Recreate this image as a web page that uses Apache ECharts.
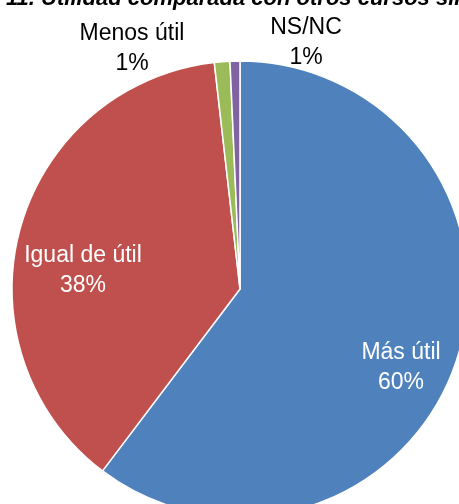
<!DOCTYPE html>
<html>
<head>
<meta charset="utf-8">
<script src="https://cdn.jsdelivr.net/npm/echarts@6/dist/echarts.min.js"></script>
<style>html,body{margin:0;padding:0;background:#fff;}#c{width:459px;height:504px;}</style>
</head>
<body>
<div id="c"></div>
<script>
var titleText = '11. Utilidad comparada con otros cursos similares';
var categories = ['Más útil', 'Igual de útil', 'Menos útil', 'NS/NC'];
var values = [60.3, 37.9, 1.1, 0.7];
var colors = ['#4F81BD', '#C0504D', '#9BBB59', '#8064A2'];
var labelColors = ['#ffffff', '#ffffff', '#000000', '#000000'];
var labelPos = [[401, 368], [83, 271], [132, 49], [306, 43]];

var FONT = '"Liberation Sans Narrow", "Arial Narrow", "Liberation Sans", Arial, sans-serif';
var chart = echarts.init(document.getElementById('c'), null, {renderer: 'canvas'});
chart.setOption({
  animation: false,
  backgroundColor: '#ffffff',
  graphic: [{
    type: 'text', left: 6, top: -12,
    style: {text: titleText, font: 'italic bold 22px "Liberation Sans", Arial, sans-serif', fill: '#000'}
  }],
  series: [{
    type: 'pie',
    center: [240, 289],
    radius: 228,
    startAngle: 90,
    clockwise: true,
    silent: true,
    data: categories.map(function (c, i) {
      return {name: c, value: values[i], itemStyle: {color: colors[i]},
        label: {color: labelColors[i]}};
    }),
    itemStyle: {borderColor: '#ffffff', borderWidth: 1.5},
    label: {
      show: true, position: 'inside',
      fontFamily: FONT, fontSize: 23, lineHeight: 30,
      formatter: function (p) { return p.name + '\n' + Math.max(1, Math.round(p.value)) + '%'; }
    },
    labelLine: {show: false},
    labelLayout: function (p) {
      var lp = labelPos[p.dataIndex];
      return {x: lp[0], y: lp[1], align: 'center', verticalAlign: 'middle'};
    }
  }]
});
</script>
</body>
</html>
